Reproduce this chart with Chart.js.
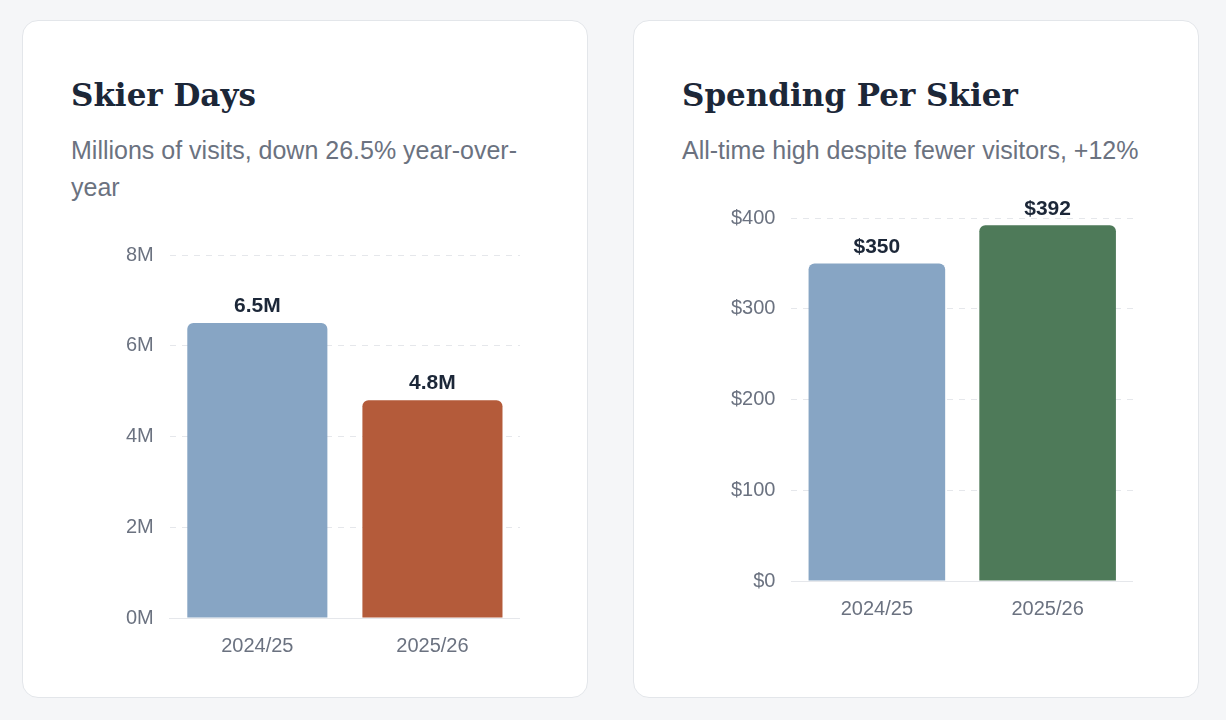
<!DOCTYPE html>
<html>
<head>
<meta charset="utf-8">
<script src="https://cdn.jsdelivr.net/npm/chart.js@4"></script>
<style>
  body { margin: 0; background: #f5f6f8; font-family: "Helvetica Neue", Arial, "Liberation Sans", sans-serif; }
  .card { position: absolute; top: 20px; width: 566px; height: 678px; background: #fff; border: 1px solid #e3e6ea; border-radius: 16px; box-sizing: border-box; }
  .card h2 { position: absolute; left: 48px; top: 56px; margin: 0; font-family: Georgia, "DejaVu Serif", serif; font-size: 31px; color: #1c2738; }
  .card p { position: absolute; left: 48px; top: 111px; width: 470px; margin: 0; font-size: 25px; line-height: 37px; color: #6b7280; }
  .wrap { position: absolute; }
</style>
</head>
<body>
<div class="card" style="left:22px">
  <h2>Skier Days</h2>
  <p>Millions of visits, down 26.5% year-over-year</p>
</div>
<div class="card" style="left:633px">
  <h2>Spending Per Skier</h2>
  <p>All-time high despite fewer visitors, +12%</p>
</div>
<div class="wrap" style="left:110px;top:227px;width:410px;height:439px"><canvas id="c1"></canvas></div>
<div class="wrap" style="left:715px;top:190px;width:418px;height:439px"><canvas id="c2"></canvas></div>
<script>
const seasons = ["2024/25", "2025/26"];
const skierDays = [6.5, 4.8];
const spending = [350, 392];
const daysTicks = [0, 2, 4, 6, 8];
const spendTicks = [0, 100, 200, 300, 400];

function valueLabels(fmt) {
  return {
    id: "valueLabels",
    afterDatasetsDraw(chart) {
      const ctx = chart.ctx;
      chart.getDatasetMeta(0).data.forEach((bar, i) => {
        ctx.save();
        ctx.font = "bold 21px 'Helvetica Neue', Arial, 'Liberation Sans', sans-serif";
        ctx.fillStyle = "#1c2738";
        ctx.textAlign = "center";
        ctx.textBaseline = "bottom";
        ctx.fillText(fmt(chart.data.datasets[0].data[i]), bar.x, bar.y - 6);
        ctx.restore();
      });
    }
  };
}

function makeChart(id, data, colors, max, ticks, fmt) {
  new Chart(document.getElementById(id), {
    type: "bar",
    data: {
      labels: seasons,
      datasets: [{ data: data, backgroundColor: colors, borderRadius: { topLeft: 6, topRight: 6 }, borderSkipped: "bottom",
        barPercentage: 0.8, categoryPercentage: 1 }]
    },
    options: {
      responsive: true, maintainAspectRatio: false, animation: false,
      layout: { padding: { top: 12 } },
      plugins: { legend: { display: false }, tooltip: { enabled: false } },
      scales: {
        x: { grid: { display: false }, border: { color: "#e5e7eb" },
          ticks: { color: "#6b7280", font: { size: 20 }, padding: 8 } },
        y: { min: 0, max: max, afterBuildTicks: a => { a.ticks = ticks.map(v => ({ value: v })); },
          border: { display: false, dash: [6, 6] },
          grid: { color: "#e5e7eb", drawTicks: false },
          ticks: { color: "#6b7280", font: { size: 20 }, padding: 16, callback: v => fmt(v) } }
      }
    },
    plugins: [valueLabels(fmt)]
  });
}

makeChart("c1", skierDays, ["#87a5c4", "#b45b3a"], 8, daysTicks, v => v + "M");
makeChart("c2", spending, ["#87a5c4", "#4e7a59"], 400, spendTicks, v => "$" + v);
</script>
</body>
</html>
